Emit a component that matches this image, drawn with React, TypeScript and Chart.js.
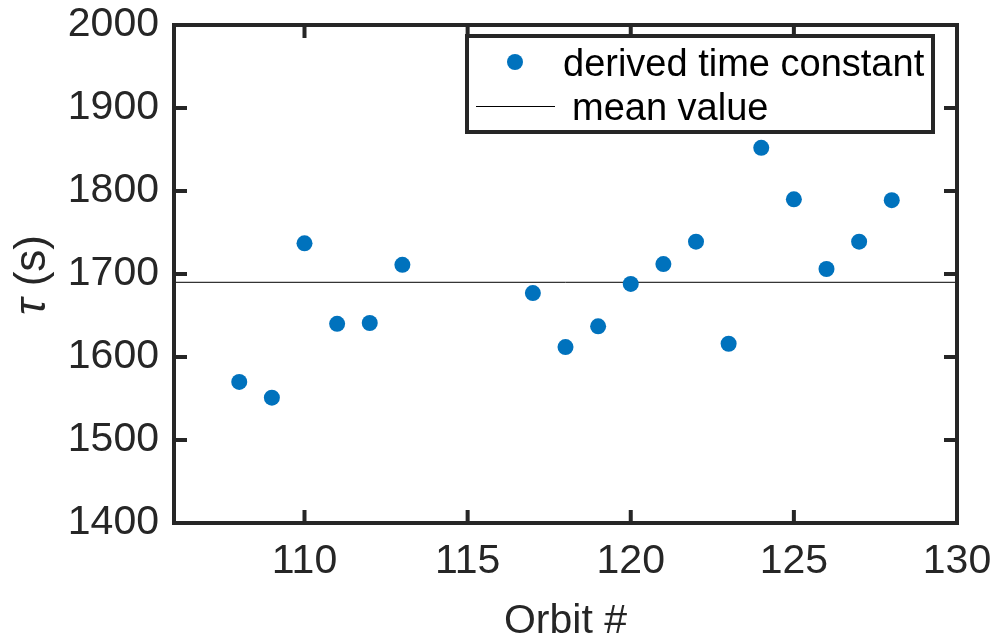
import React, { useEffect, useRef } from "react";
import { Chart, registerables } from "chart.js";

Chart.register(...registerables);

const orbits = [108, 109, 110, 111, 112, 113, 117, 118, 119, 120, 121, 122, 123, 124, 125, 126, 127, 128];
const tauValues = [1570, 1551, 1737, 1640, 1641, 1711, 1677, 1612, 1637, 1688, 1712, 1739, 1616, 1852, 1790, 1706, 1739, 1789];
const meanValue = 1690;
const xRange = [106, 130];
const yRange = [1400, 2000];
const xTicks = [110, 115, 120, 125, 130];
const yTicks = [1400, 1500, 1600, 1700, 1800, 1900, 2000];
const seriesLabel = "derived time constant";
const meanLabel = "mean value";
const xTitle = "Orbit #";

const AXIS_COLOR = "#262626";
const FONT = "'Liberation Sans', Arial, Helvetica, sans-serif";

const framePlugin = {
  id: "frame",
  afterDraw(chart: any) {
    const ctx = chart.ctx;
    const { left, right, top, bottom } = chart.chartArea;
    const xs = chart.scales.x;
    const ys = chart.scales.y;
    ctx.save();
    ctx.strokeStyle = AXIS_COLOR;
    ctx.lineWidth = 4;
    ctx.lineCap = "butt";
    const tl = 13;
    ctx.beginPath();
    for (const t of xTicks) {
      const px = xs.getPixelForValue(t);
      ctx.moveTo(px, bottom);
      ctx.lineTo(px, bottom - tl);
      ctx.moveTo(px, top);
      ctx.lineTo(px, top + tl);
    }
    for (const t of yTicks) {
      const py = ys.getPixelForValue(t);
      ctx.moveTo(left, py);
      ctx.lineTo(left + tl, py);
      ctx.moveTo(right, py);
      ctx.lineTo(right - tl, py);
    }
    ctx.stroke();
    ctx.lineJoin = "miter";
    ctx.strokeRect(left, top, right - left, bottom - top);

    // Legend
    const lx = 467, ly = 36, lw = 466, lh = 96;
    ctx.fillStyle = "#ffffff";
    ctx.fillRect(lx, ly, lw, lh);
    ctx.lineWidth = 4;
    ctx.strokeStyle = AXIS_COLOR;
    ctx.strokeRect(lx, ly, lw, lh);
    ctx.fillStyle = "#0072BD";
    ctx.beginPath();
    ctx.arc(515, 62, 8, 0, Math.PI * 2);
    ctx.fill();
    ctx.strokeStyle = "#000000";
    ctx.lineWidth = 1;
    ctx.beginPath();
    ctx.moveTo(476, 106.5);
    ctx.lineTo(555, 106.5);
    ctx.stroke();
    ctx.fillStyle = "#000000";
    ctx.font = `38px ${FONT}`;
    ctx.textAlign = "left";
    ctx.textBaseline = "alphabetic";
    ctx.fillText(seriesLabel, 563, 76);
    ctx.fillText(meanLabel, 572, 120);

    // X title
    ctx.fillStyle = AXIS_COLOR;
    ctx.font = `41px ${FONT}`;
    ctx.textAlign = "center";
    ctx.textBaseline = "alphabetic";
    ctx.fillText(xTitle, (left + right) / 2, 633);

    // Y title
    ctx.save();
    ctx.translate(45, 275);
    ctx.rotate(-Math.PI / 2);
    ctx.textBaseline = "alphabetic";
    ctx.textAlign = "left";
    const tauFont = `italic 44px ${FONT}`;
    const restFont = `44px ${FONT}`;
    ctx.font = tauFont;
    const wTau = ctx.measureText("τ").width;
    ctx.font = restFont;
    const wRest = ctx.measureText(" (s)").width;
    const start = -(wTau + wRest) / 2;
    ctx.font = tauFont;
    ctx.fillText("τ", start, 0);
    ctx.font = restFont;
    ctx.fillText(" (s)", start + wTau, 0);
    ctx.restore();

    ctx.restore();
  },
};

const zeroPad = (scale: any) => {
  scale.paddingTop = 0;
  scale.paddingBottom = 0;
  scale.paddingLeft = 0;
  scale.paddingRight = 0;
};

export default function App() {
  const ref = useRef<HTMLCanvasElement | null>(null);
  useEffect(() => {
    if (!ref.current) return;
    const chart = new Chart(ref.current, {
      type: "scatter",
      data: {
        datasets: [
          {
            label: seriesLabel,
            data: orbits.map((o, i) => ({ x: o, y: tauValues[i] })),
            backgroundColor: "#0072BD",
            borderColor: "#0072BD",
            pointRadius: 8,
            pointBorderWidth: 0,
            showLine: false,
          },
          {
            label: meanLabel,
            type: "line",
            data: xRange.map((x) => ({ x, y: meanValue })),
            borderColor: "#000000",
            borderWidth: 1,
            pointRadius: 0,
            fill: false,
          } as any,
        ],
      },
      options: {
        animation: false,
        responsive: false,
        maintainAspectRatio: false,
        layout: { padding: { left: 0, top: 25, right: 42, bottom: 0 } },
        plugins: { legend: { display: false }, tooltip: { enabled: false }, title: { display: false } },
        scales: {
          x: {
            type: "linear",
            min: xRange[0],
            max: xRange[1],
            grid: { display: false, drawTicks: false },
            border: { display: false },
            afterBuildTicks: (scale: any) => {
              scale.ticks = xTicks.map((v) => ({ value: v }));
            },
            afterFit: (scale: any) => {
              scale.height = 117;
              zeroPad(scale);
            },
            ticks: {
              padding: 14,
              color: AXIS_COLOR,
              font: { family: FONT, size: 41 },
              maxRotation: 0,
              callback: (v: any) => String(v),
            },
          },
          y: {
            type: "linear",
            min: yRange[0],
            max: yRange[1],
            grid: { display: false, drawTicks: false },
            border: { display: false },
            afterBuildTicks: (scale: any) => {
              scale.ticks = yTicks.map((v) => ({ value: v }));
            },
            afterFit: (scale: any) => {
              scale.width = 174;
              zeroPad(scale);
            },
            ticks: {
              padding: 15,
              color: AXIS_COLOR,
              font: { family: FONT, size: 41 },
              callback: (v: any) => String(v),
            },
          },
        },
      },
      plugins: [framePlugin],
    });
    return () => chart.destroy();
  }, []);
  return (
    <div style={{ position: "fixed", left: 0, top: 0, width: 999, height: 640, background: "#fff" }}>
      <canvas ref={ref} width={999} height={640} style={{ width: 999, height: 640, display: "block" }} />
    </div>
  );
}
